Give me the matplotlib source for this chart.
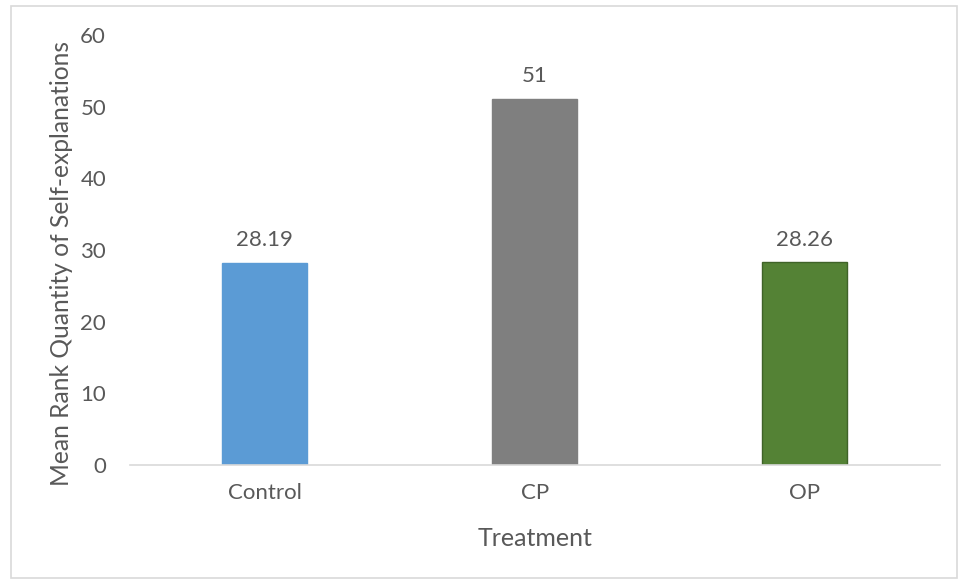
import matplotlib.pyplot as plt
from matplotlib.patches import Rectangle

# mean rank per treatment group
groups = ["Control", "CP", "OP"]
mean_rank = [28.19, 51, 28.26]
labels = ["28.19", "51", "28.26"]
colors = ["#5B9BD5", "#7F7F7F", "#548235"]
edges = ["#5B9BD5", "#7F7F7F", "#3F6328"]
yticks = [0, 10, 20, 30, 40, 50, 60]

TXT = "#595959"
plt.rcParams["font.family"] = ["Lato", "DejaVu Sans"]

fig = plt.figure(figsize=(9.61, 5.80), dpi=100)
ax = fig.add_axes([0.135, 0.198, 0.843, 0.742])

x = range(len(groups))
ax.bar(x, mean_rank, width=0.315, color=colors, edgecolor=edges, linewidth=1)
for xi, v, lab in zip(x, mean_rank, labels):
    ax.text(xi, v + 1.8, lab, ha="center", va="bottom", fontsize=16, color=TXT)

ax.set_xlim(-0.5, 2.5)
ax.set_ylim(0, 60)
ax.set_yticks(yticks)
ax.set_xticks(list(x))
ax.set_xticklabels(groups)
ax.tick_params(axis="both", length=0, labelsize=16, colors=TXT)
ax.tick_params(axis="y", pad=17)
ax.tick_params(axis="x", pad=13)
for s in ["top", "right", "left"]:
    ax.spines[s].set_visible(False)
ax.spines["bottom"].set_color("#D9D9D9")
ax.spines["bottom"].set_linewidth(1.2)

ax.set_xlabel("Treatment", fontsize=18, color=TXT, labelpad=17)
# y label sits a little below the axes centre, as in the original
fig.text(62 / 961, 1 - 263 / 580, "Mean Rank Quantity of Self-explanations",
         rotation=90, ha="center", va="center", fontsize=17.7, color=TXT)

# chart-area border
fig.patches.append(Rectangle((0.011, 0.004), 0.985, 0.985, transform=fig.transFigure,
                             fill=False, edgecolor="#D9D9D9", linewidth=1.2))

fig.savefig("out.png", dpi=100)
